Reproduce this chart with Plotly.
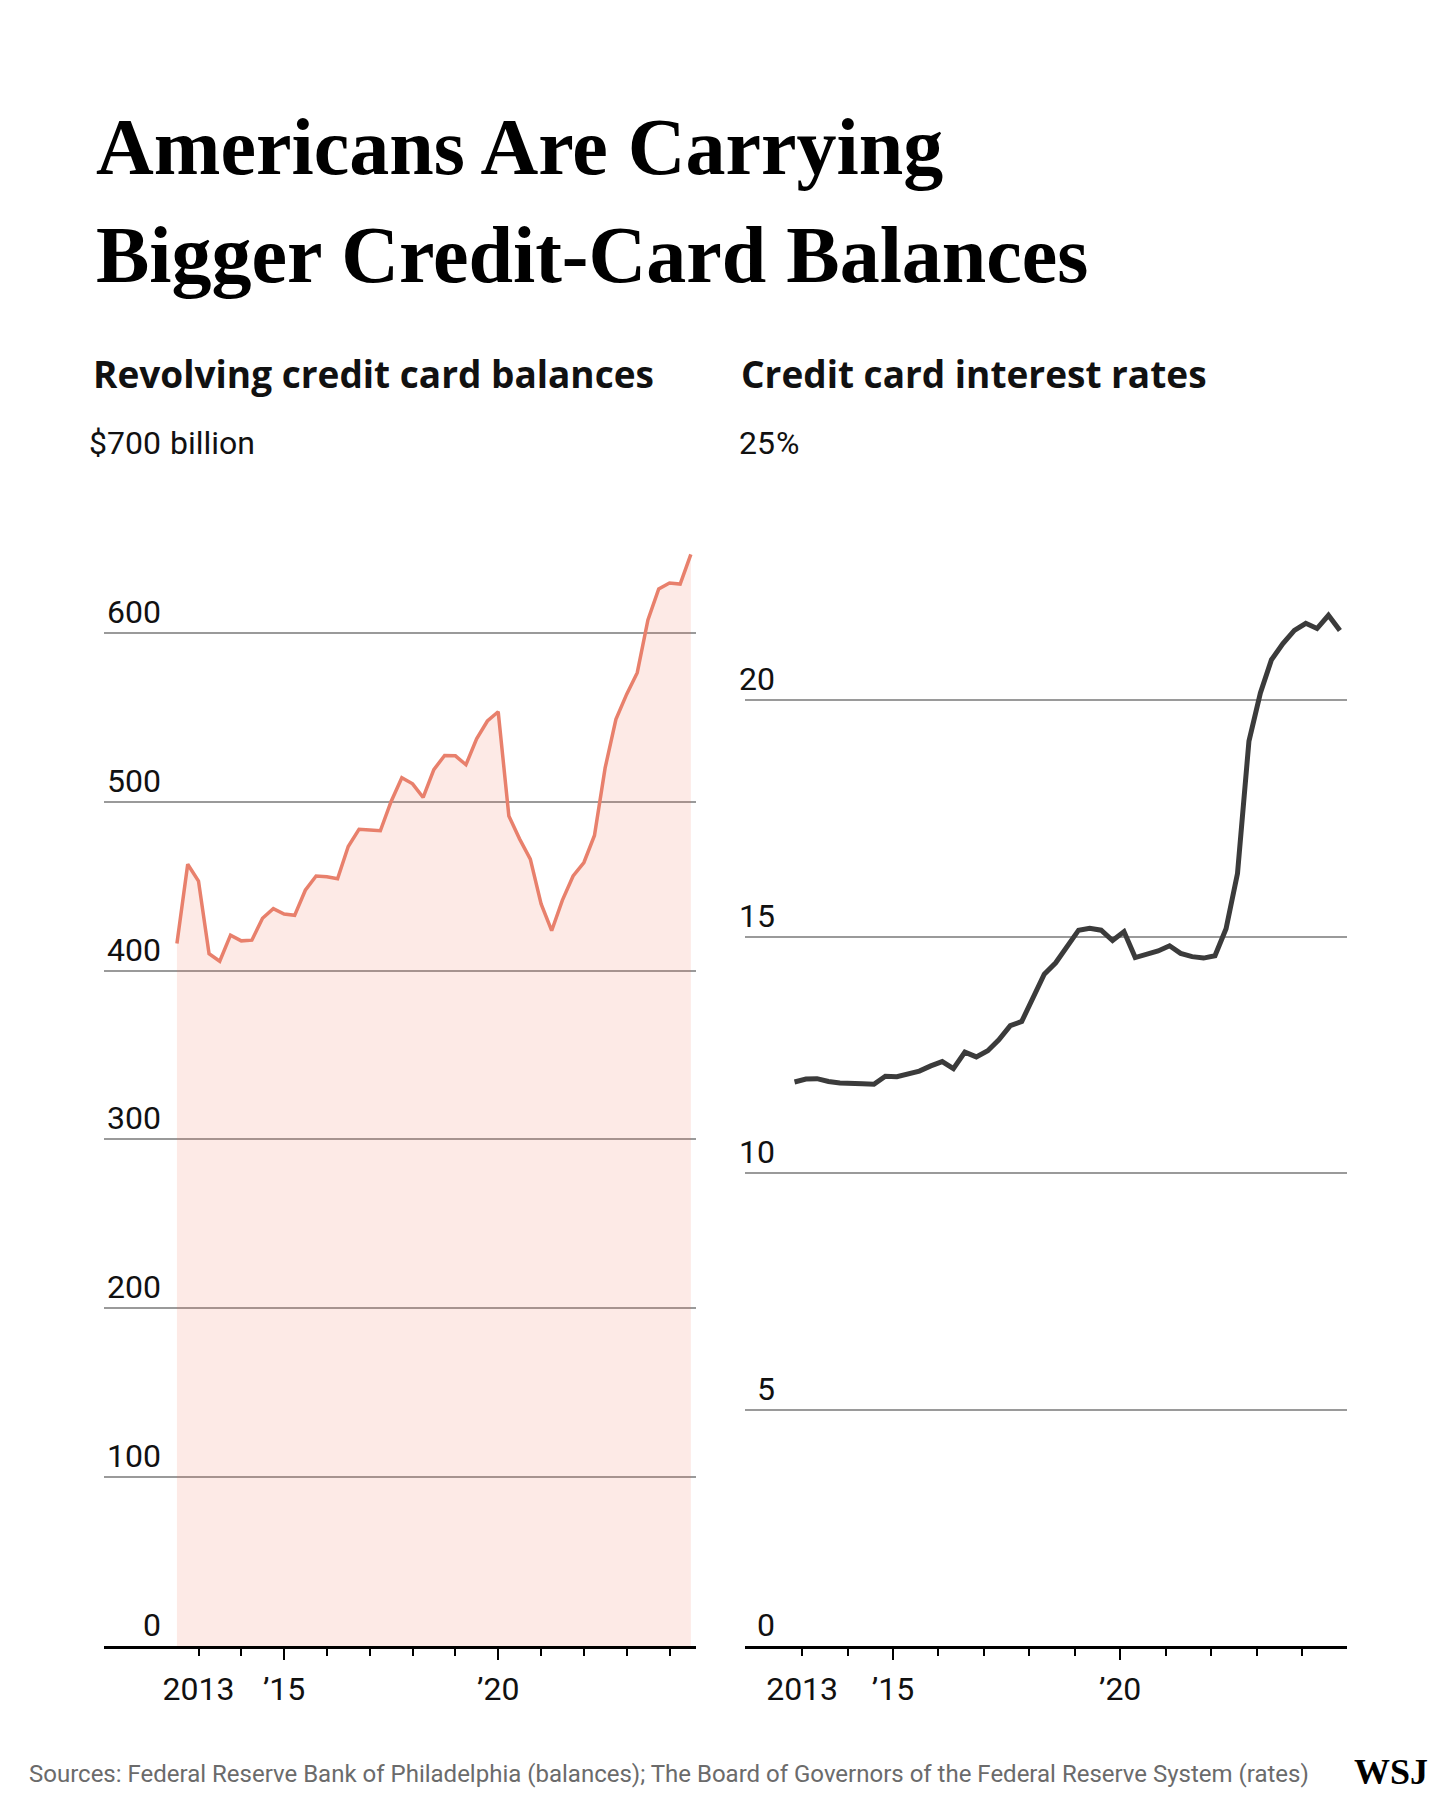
import pandas as pd
import plotly.graph_objects as go

W, H = 1440, 1800

# ---------------- data ----------------
bal_dates = pd.date_range("2012-07-01", periods=49, freq="QS")
balances = [416, 463, 453, 410, 405.5, 421, 417.6, 418, 431, 436.7, 433.5, 432.7,
            447.6, 456, 455.6, 454.4, 473.5, 483.7, 483.2, 482.8, 500, 514.2, 510.6,
            502.5, 519, 527.4, 527.2, 521.9, 537.2, 547.8, 553.3, 491.5, 478, 466,
            439.5, 423.6, 441.6, 456, 464, 480, 520, 548.8, 563.7, 576.4, 607.6, 626,
            629.5, 628.9, 646.5]

rate_dates = pd.date_range("2012-11-01", periods=49, freq="QS-NOV")
rates = [11.93, 11.99, 12.0, 11.94, 11.91, 11.89, 11.89, 11.88, 12.05, 12.04, 12.1,
         12.16, 12.27, 12.36, 12.21, 12.56, 12.46, 12.59, 12.82, 13.12, 13.21, 13.69,
         14.21, 14.45, 14.78, 15.14, 15.18, 15.14, 14.92, 15.11, 14.56, 14.62, 14.70,
         14.81, 14.65, 14.58, 14.55, 14.6, 15.17, 16.34, 19.14, 20.16, 20.86, 21.2,
         21.48, 21.63, 21.52, 21.8, 21.48]

bal_ticks = [0, 100, 200, 300, 400, 500, 600, 700]
bal_labels = ["0", "100", "200", "300", "400", "500", "600", "$700"]
bal_unit = "billion"

rate_ticks = [0, 5, 10, 15, 20, 25]
rate_labels = ["0", "5", "10", "15", "20", "25"]
rate_unit = "%"

x_label_years = ["2013-01-01", "2015-01-01", "2020-01-01"]
x_label_text = ["2013", "\u201915", "\u201920"]
x_long_years = ["2015-01-01", "2020-01-01"]
x_minor_years = [f"{y}-01-01" for y in range(2013, 2025)]

title_lines = ["Americans Are Carrying", "Bigger Credit-Card Balances"]
sub_left = "Revolving credit card balances"
sub_right = "Credit card interest rates"
source = ("Sources: Federal Reserve Bank of Philadelphia (balances); "
          "The Board of Governors of the Federal Reserve System (rates)")

# ---------------- style ----------------
def X(px):
    return px / W

def Y(py):
    return 1 - py / H

SANS = "Roboto"
HEAD = "Open Sans"
SERIF = "Liberation Serif"
GRID = "#9a9a9a"

left_dom = [X(104), X(696)]
right_dom = [X(745), X(1347)]
y_dom = [Y(1646), Y(464)]

fig = go.Figure()

fig.add_trace(go.Scatter(
    x=bal_dates, y=balances, mode="lines", fill="tozeroy",
    fillcolor="rgba(242,105,75,0.14)",
    line=dict(color="#e8806c", width=3.5), xaxis="x", yaxis="y",
    hoverinfo="skip", showlegend=False))

fig.add_trace(go.Scatter(
    x=rate_dates, y=rates, mode="lines",
    line=dict(color="#3b3b3b", width=5), xaxis="x2", yaxis="y2",
    hoverinfo="skip", showlegend=False))

# invisible traces for the long-tick overlay axes
fig.add_trace(go.Scatter(x=bal_dates, y=balances, mode="lines",
                         line=dict(color="rgba(0,0,0,0)", width=0),
                         xaxis="x3", yaxis="y", hoverinfo="skip", showlegend=False))
fig.add_trace(go.Scatter(x=rate_dates, y=rates, mode="lines",
                         line=dict(color="rgba(0,0,0,0)", width=0),
                         xaxis="x4", yaxis="y2", hoverinfo="skip", showlegend=False))

left_range = ["2010-10-18", "2024-08-14"]
right_range = ["2011-09-30", "2024-12-28"]

def xaxis_main(dom, rng, anchor):
    return dict(
        domain=dom, range=rng, type="date", anchor=anchor,
        showgrid=False, zeroline=False,
        showline=True, linecolor="black", linewidth=3,
        tickmode="array", tickvals=x_label_years, ticktext=x_label_text,
        ticks="outside", ticklen=7, tickwidth=2, tickcolor="black",
        tickfont=dict(family=SANS, size=32, color="#111"),
        ticklabelstandoff=6,
        minor=dict(tickmode="array", tickvals=x_minor_years, ticks="outside",
                   ticklen=7, tickwidth=2, tickcolor="black", showgrid=False),
        fixedrange=True,
    )

def xaxis_long(dom, rng, anchor, over):
    return dict(
        domain=dom, range=rng, type="date", anchor=anchor, overlaying=over,
        showgrid=False, zeroline=False, showline=False,
        tickmode="array", tickvals=x_long_years, showticklabels=False,
        ticks="outside", ticklen=13, tickwidth=2, tickcolor="black",
        fixedrange=True,
    )

def yaxis(rng, ticks, anchor):
    return dict(
        domain=y_dom, range=rng, anchor=anchor,
        showgrid=True, gridcolor=GRID, gridwidth=1.5,
        tickmode="array", tickvals=ticks, showticklabels=False,
        zeroline=False, showline=False, ticks="", fixedrange=True,
    )

fig.update_layout(
    width=W, height=H,
    margin=dict(l=0, r=0, t=0, b=0),
    paper_bgcolor="white", plot_bgcolor="white",
    xaxis=xaxis_main(left_dom, left_range, "y"),
    xaxis2=xaxis_main(right_dom, right_range, "y2"),
    xaxis3=xaxis_long(left_dom, left_range, "y", "x"),
    xaxis4=xaxis_long(right_dom, right_range, "y2", "x2"),
    yaxis=yaxis([0, 700], bal_ticks, "x"),
    yaxis2=yaxis([0, 25], rate_ticks, "x2"),
)

ann = []
# title, one annotation per line
for line, base in zip(title_lines, [171, 279]):
    ann.append(dict(x=X(94), xref="paper", y=Y(base + 22), yref="paper", text=line,
                    xanchor="left", yanchor="bottom", showarrow=False,
                    font=dict(family=SERIF, size=80, color="#000", weight="bold")))

# y tick labels from the tick arrays
for v, t in zip(bal_ticks, bal_labels):
    ann.append(dict(x=X(163), xref="paper", y=v, yref="y", text=t,
                    xanchor="right", yanchor="bottom", showarrow=False,
                    font=dict(family=SANS, size=32, color="#111")))
ann.append(dict(x=X(163), xref="paper", y=bal_ticks[-1], yref="y", text=bal_unit,
                xanchor="left", yanchor="bottom", showarrow=False, xshift=5,
                font=dict(family=SANS, size=32, color="#111")))
for v, t in zip(rate_ticks, rate_labels):
    ann.append(dict(x=X(777), xref="paper", y=v, yref="y2", text=t,
                    xanchor="right", yanchor="bottom", showarrow=False,
                    font=dict(family=SANS, size=32, color="#111")))
ann.append(dict(x=X(777), xref="paper", y=rate_ticks[-1], yref="y2", text=rate_unit,
                xanchor="left", yanchor="bottom", showarrow=False, xshift=-3,
                font=dict(family=SANS, size=32, color="#111")))

# subtitles
ann.append(dict(x=X(91), xref="paper", y=Y(401), yref="paper", text=sub_left,
                xanchor="left", yanchor="bottom", showarrow=False,
                font=dict(family=HEAD, size=37, color="#111", weight="bold")))
ann.append(dict(x=X(739), xref="paper", y=Y(401), yref="paper", text=sub_right,
                xanchor="left", yanchor="bottom", showarrow=False,
                font=dict(family=HEAD, size=37, color="#111", weight="bold")))

# source and logo
ann.append(dict(x=X(27), xref="paper", y=Y(1790), yref="paper", text=source,
                xanchor="left", yanchor="bottom", showarrow=False,
                font=dict(family=SANS, size=24, color="#6b6b6b")))
ann.append(dict(x=X(1430), xref="paper", y=Y(1794), yref="paper", text="WSJ",
                xanchor="right", yanchor="bottom", showarrow=False,
                font=dict(family=SERIF, size=36, color="#000", weight="bold")))

fig.update_layout(annotations=ann)

fig.write_html("out.html", config={"displayModeBar": False},
               post_script="document.body.style.margin='0';")
